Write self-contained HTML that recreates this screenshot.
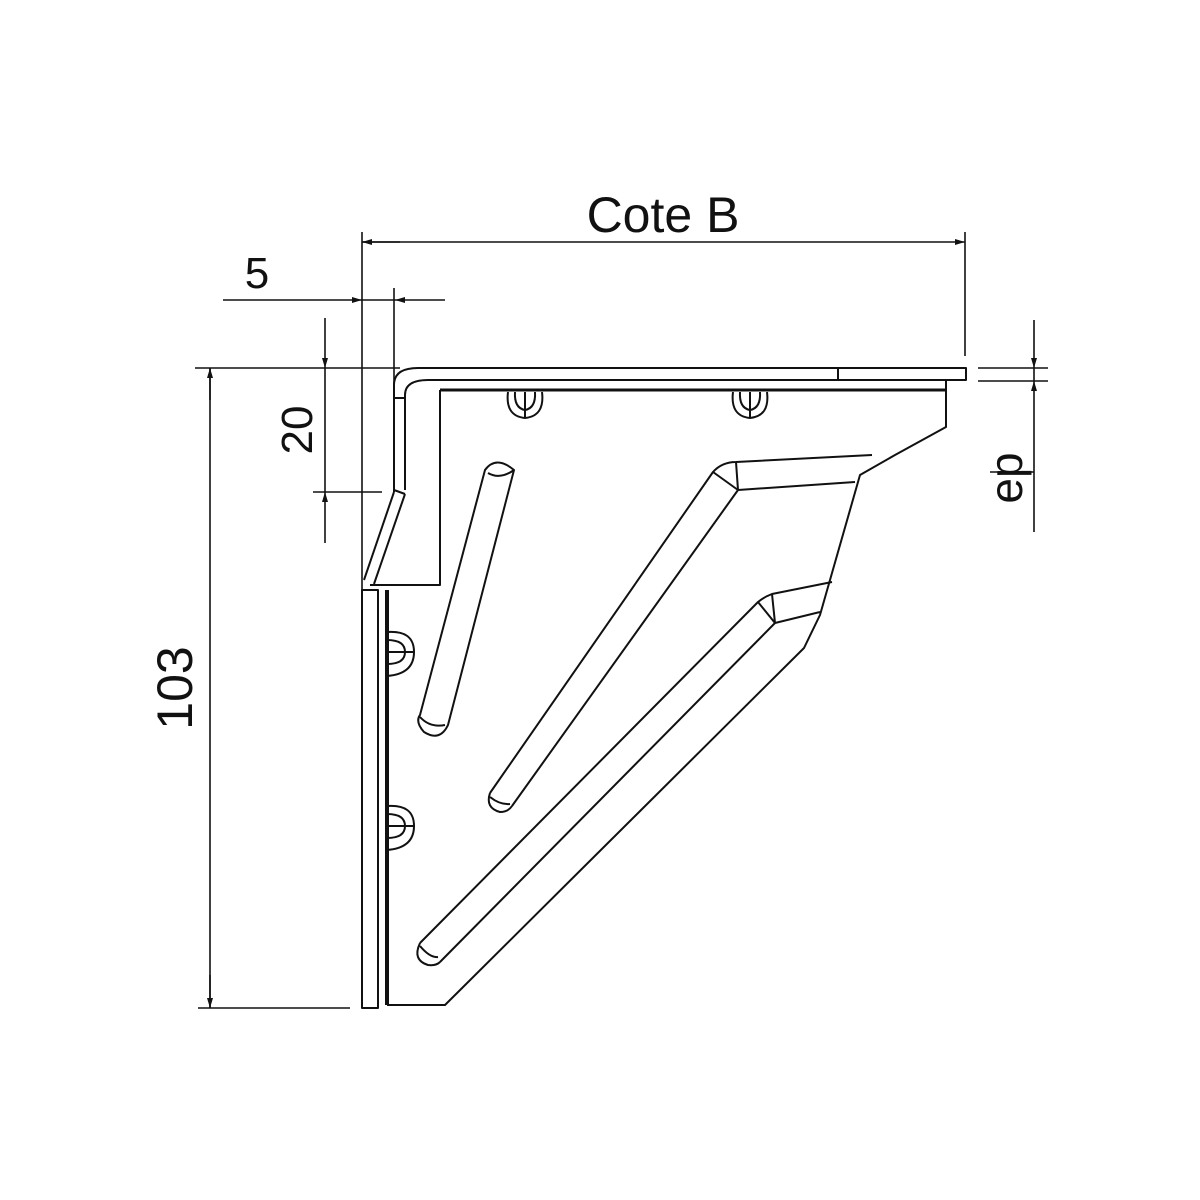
<!DOCTYPE html>
<html><head><meta charset="utf-8"><style>html,body{margin:0;padding:0;background:#fff}svg{display:block}</style></head>
<body>
<svg width="1200" height="1200" viewBox="0 0 1200 1200" xmlns="http://www.w3.org/2000/svg">
<defs>
<marker id="a" viewBox="0 0 10 6" refX="10" refY="3" markerWidth="10" markerHeight="6" markerUnits="userSpaceOnUse" orient="auto"><path d="M0,0L10,3L0,6z" fill="#111"/></marker>
</defs>
<g stroke="#111" stroke-width="1.6" fill="none">
<!-- Cote B -->
<line x1="362" y1="232" x2="362" y2="590"/>
<line x1="965" y1="232" x2="965" y2="356"/>
<line x1="362" y1="242" x2="965" y2="242" marker-start="url(#a)" marker-end="url(#a)" style="marker-start:none"/>
<line x1="400" y1="242" x2="362" y2="242" marker-end="url(#a)"/>
<!-- 5 -->
<line x1="223" y1="300" x2="362" y2="300" marker-end="url(#a)"/>
<line x1="445" y1="300" x2="395" y2="300" marker-end="url(#a)"/>
<line x1="362" y1="300" x2="395" y2="300"/>
<line x1="394" y1="288" x2="394" y2="385"/>
<!-- horizontal ref -->
<line x1="195" y1="368" x2="400" y2="368"/>
<!-- 20 -->
<line x1="325" y1="318" x2="325" y2="368" marker-end="url(#a)"/>
<line x1="325" y1="368" x2="325" y2="492"/>
<line x1="325" y1="543" x2="325" y2="492" marker-end="url(#a)"/>
<line x1="313" y1="492" x2="382" y2="492"/>
<!-- 103 -->
<line x1="210" y1="368" x2="210" y2="1008"/>
<line x1="210" y1="400" x2="210" y2="368" marker-end="url(#a)"/>
<line x1="210" y1="975" x2="210" y2="1008" marker-end="url(#a)"/>
<line x1="198" y1="1008" x2="350" y2="1008"/>
<!-- ep -->
<line x1="1034" y1="320" x2="1034" y2="368" marker-end="url(#a)"/>
<line x1="1034" y1="532" x2="1034" y2="381" marker-end="url(#a)"/>
<line x1="1034" y1="368" x2="1034" y2="381"/>
<line x1="978" y1="368" x2="1048" y2="368"/>
<line x1="978" y1="381" x2="1048" y2="381"/>
<line x1="990" y1="472" x2="1034" y2="472"/>
</g>
<g font-family="Liberation Sans, sans-serif" fill="#111">
<text x="663" y="232" font-size="50" text-anchor="middle">Cote B</text>
<text x="257" y="288" font-size="44" text-anchor="middle">5</text>
<text transform="translate(312,430) rotate(-90)" font-size="44" text-anchor="middle">20</text>
<text transform="translate(192,688) rotate(-90)" font-size="50" text-anchor="middle">103</text>
<text transform="translate(1022,478) rotate(-90)" font-size="46" text-anchor="middle">ep</text>
</g>
<g stroke="#111" stroke-width="2" fill="none" stroke-linejoin="round">
<!-- top plate -->
<path d="M394,385 Q394,368 418,368 L966,368 L966,380 L428,380 Q405,380 405,395 L405,490"/>
<line x1="838" y1="368" x2="838" y2="380"/>
<line x1="394" y1="385" x2="394" y2="492"/>
<line x1="394" y1="398" x2="405" y2="398"/>
<line x1="394" y1="490" x2="405" y2="494"/>
<path d="M394,492 L364,580 M405,494 L374,584"/>
<path d="M440,390 L440,585 L370,585"/>
<line x1="440" y1="390" x2="946" y2="390" stroke-width="3"/>
<!-- right profile -->
<path d="M946,380 L946,427 L895,455 L860,475 L820,615 L804,648 L445,1005 L387,1005"/>
<!-- back plate -->
<path d="M362,590 L362,1008 L378,1008 L378,590 Z"/>
<line x1="387" y1="590" x2="387" y2="1005" stroke-width="4"/>
<!-- rib 1 -->
<path d="M485,470 Q496,455 514,470 L448,725 Q440,742 424,732 Q415,722 420,715 Z"/>
<path d="M488,473 Q500,480 514,470 M420,717 Q430,728 445,725"/>
<!-- rib 2 -->
<path d="M490,793 L713,472 Q722,462 736,462 L872,455"/>
<path d="M512,806 L738,490 L855,482"/>
<path d="M490,793 Q485,808 500,812 Q508,812 512,806"/>
<path d="M490,797 Q500,805 510,804 M713,472 L738,490 M736,462 L738,490"/>
<!-- rib 3 -->
<path d="M420,943 L758,602 Q764,597 772,594 L832,582"/>
<path d="M440,962 L775,623 L820,612"/>
<path d="M420,943 Q412,960 428,965 Q436,966 440,962"/>
<path d="M420,946 Q430,958 438,957 M758,602 L775,623 M772,594 L775,623"/>
<!-- bolts top -->
<path d="M508,392 Q505,416 525,418 Q545,416 542,392"/>
<path d="M515,392 Q514,408 525,410 Q536,408 535,392"/>
<line x1="525" y1="392" x2="525" y2="418"/>
<path d="M733,392 Q730,416 750,418 Q770,416 767,392"/>
<path d="M740,392 Q739,408 750,410 Q761,408 760,392"/>
<line x1="750" y1="392" x2="750" y2="418"/>
<!-- bolts side -->
<path d="M387,632 Q414,630 414,652 Q414,674 387,676"/>
<path d="M387,640 Q405,640 405,652 Q405,664 387,664"/>
<line x1="387" y1="652" x2="414" y2="652"/>
<path d="M387,806 Q414,804 414,826 Q414,848 387,850"/>
<path d="M387,814 Q405,814 405,826 Q405,838 387,838"/>
<line x1="387" y1="826" x2="414" y2="826"/>
</g>
</svg>
</body></html>
